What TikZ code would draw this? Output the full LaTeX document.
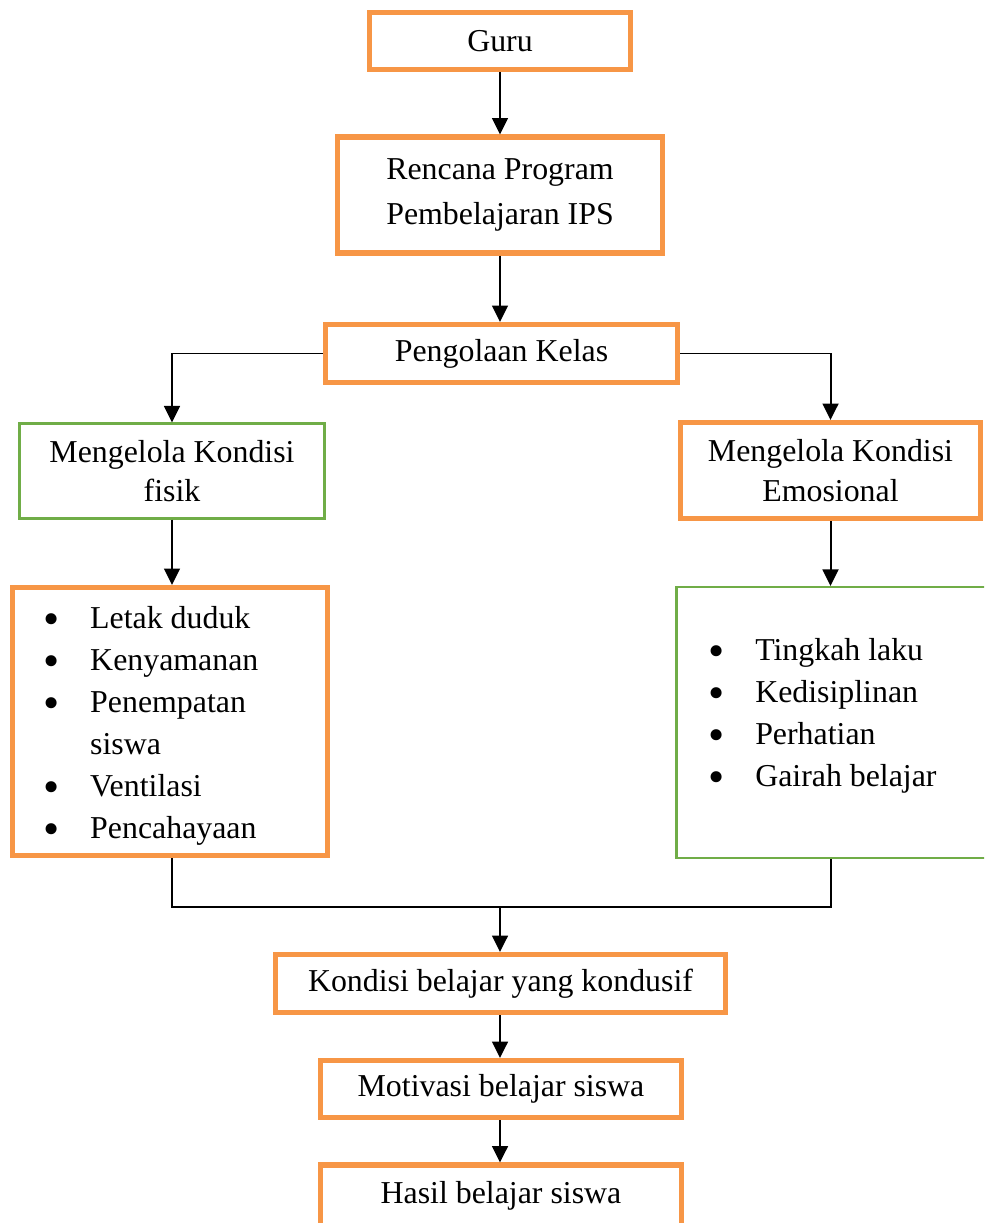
\documentclass[tikz,border=0pt]{standalone}
\usepackage{fontspec}
\setmainfont{Liberation Serif}
\usetikzlibrary{arrows.meta}
\definecolor{boxorange}{HTML}{F79646}
\definecolor{boxgreen}{HTML}{70AD47}
\newcommand\bigdot{\raisebox{-0.4ex}{\scalebox{1.45}{\textbullet}}}
\tikzset{
  obox/.style={draw=boxorange, line width=1.9pt, align=center, inner sep=0pt},
  gbox/.style={draw=boxgreen, line width=0.8pt, align=center, inner sep=0pt},
  boxdim/.style 2 args={minimum width=#1*0.3766pt, minimum height=#2*0.3766pt},
  flow/.style={line width=0.75pt, -{Triangle[width=6pt,length=6.2pt]}},
  joinline/.style={line width=0.75pt},
  items/.style={anchor=west, inner sep=0pt, font=\fontsize{12pt}{15.8pt}\selectfont}
}

\begin{document}
\begin{tikzpicture}[x=0.3766pt, y=-0.3766pt, font=\fontsize{12pt}{17pt}\selectfont]
	%%%%% START %%%%%
	\clip (0,0) rectangle (984,1223);
	
	\node[obox, boxdim={261}{57}] (guru) at (500,41) {Guru};
	\node[obox, boxdim={325}{116}] (rpp) at (500,195) {Rencana Program\\Pembelajaran IPS};
	\node[obox, boxdim={352}{58}] (kelas) at (501.5,353.5) {Pengolaan Kelas};
	
	\node[gbox, boxdim={305}{95}, font=\fontsize{12pt}{14.7pt}\selectfont] (fisik) at (172,471) {Mengelola Kondisi\\fisik};
	\node[obox, boxdim={300}{96}, font=\fontsize{12pt}{15pt}\selectfont] (emosi) at (830.5,470.5) {Mengelola Kondisi\\Emosional};
	
	\node[obox, boxdim={315}{268}] (fisiklist) at (170,721.5) {};
	\node[items] (fisikitems) at (43,725) {\begin{tabular}{@{}l@{\hspace{11.5pt}}l@{}}
		\bigdot & Letak duduk\\
		\bigdot & Kenyamanan\\
		\bigdot & Penempatan\\
		        & siswa\\
		\bigdot & Ventilasi\\
		\bigdot & Pencahayaan
	\end{tabular}};
	
	\node[gbox, boxdim={313}{271}] (emosilist) at (833,722.5) {};
	\node[items] (emosiitems) at (708,715) {\begin{tabular}{@{}l@{\hspace{11.5pt}}l@{}}
		\bigdot & Tingkah laku\\
		\bigdot & Kedisiplinan\\
		\bigdot & Perhatian\\
		\bigdot & Gairah belajar
	\end{tabular}};
	
	\node[obox, boxdim={450}{58}] (kondusif) at (500.5,983.5) {Kondisi belajar yang kondusif};
	\node[obox, boxdim={361}{57}] (motivasi) at (501,1089) {Motivasi belajar siswa};
	\node[obox, boxdim={361}{62}] (hasil) at (501,1196) {Hasil belajar siswa};
	
	\draw[flow] (guru) -- (rpp);
	\draw[flow] (rpp.south) -- (rpp.south |- kelas.north);
	\draw[flow] (kelas.west) -| (fisik.north);
	\draw[flow] (kelas.east) -| (emosi.north);
	\draw[flow] (fisik) -- (fisik.south |- fisiklist.north);
	\draw[flow] (emosi) -- (emosi.south |- emosilist.north);
	
	\coordinate (merge) at (500,907);
	\draw[joinline] (fisik.south |- fisiklist.south) |- (merge) -| (emosi.south |- emosilist.south);
	\draw[flow] (merge) -- (merge |- kondusif.north);
	\draw[flow] (merge |- kondusif.south) -- (merge |- motivasi.north);
	\draw[flow] (merge |- motivasi.south) -- (merge |- hasil.north);
	%%%%% END %%%%%
\end{tikzpicture}
\end{document}
